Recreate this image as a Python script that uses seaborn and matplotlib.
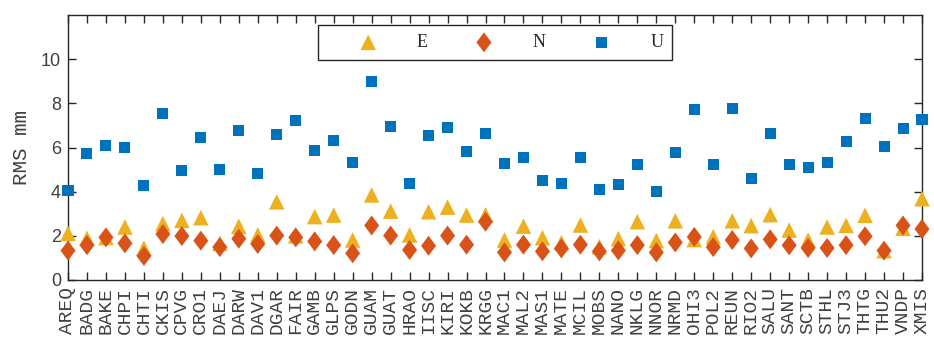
import matplotlib
matplotlib.use("Agg")
import matplotlib.pyplot as plt
import seaborn as sns
import pandas as pd
from matplotlib.path import Path

stations = ["AREQ", "BADG", "BAKE", "CHPI", "CHTI", "CKIS", "CPVG", "CRO1", "DAEJ",
            "DARW", "DAV1", "DGAR", "FAIR", "GAMB", "GLPS", "GODN", "GUAM", "GUAT",
            "HRAO", "IISC", "KIRI", "KOKB", "KRGG", "MAC1", "MAL2", "MAS1", "MATE",
            "MCIL", "MOBS", "NANO", "NKLG", "NNOR", "NRMD", "OHI3", "POL2", "REUN",
            "RIO2", "SALU", "SANT", "SCTB", "STHL", "STJ3", "THTG", "THU2", "VNDP",
            "XMIS"]

rms_e = [2.11, 1.89, 1.92, 2.40, 1.44, 2.55, 2.70, 2.82, 1.66, 2.43, 2.04, 3.54,
         2.00, 2.87, 2.94, 1.81, 3.85, 3.12, 2.04, 3.09, 3.30, 2.94, 2.95, 1.81,
         2.44, 1.91, 1.69, 2.49, 1.51, 1.87, 2.64, 1.79, 2.68, 1.83, 1.96, 2.68,
         2.46, 2.96, 2.26, 1.81, 2.40, 2.47, 2.93, 1.33, 2.34, 3.68]

rms_n = [1.33, 1.58, 1.93, 1.66, 1.09, 2.08, 1.99, 1.78, 1.49, 1.87, 1.63, 2.01,
         1.93, 1.75, 1.58, 1.21, 2.47, 2.01, 1.36, 1.55, 2.01, 1.60, 2.64, 1.25,
         1.60, 1.30, 1.43, 1.60, 1.30, 1.34, 1.58, 1.25, 1.70, 1.95, 1.49, 1.81,
         1.43, 1.84, 1.57, 1.45, 1.45, 1.58, 1.98, 1.33, 2.47, 2.31]

rms_u = [4.06, 5.73, 6.09, 6.00, 4.28, 7.54, 4.96, 6.46, 5.01, 6.77, 4.83, 6.59,
         7.23, 5.87, 6.32, 5.33, 8.99, 6.95, 4.37, 6.55, 6.91, 5.82, 6.64, 5.28,
         5.55, 4.51, 4.37, 5.55, 4.12, 4.33, 5.23, 4.01, 5.78, 7.72, 5.23, 7.77,
         4.60, 6.64, 5.23, 5.10, 5.33, 6.28, 7.32, 6.05, 6.86, 7.27]

y_ticks = [0, 2, 4, 6, 8, 10]

sns.set_theme(style="white")
plt.rcParams["font.family"] = ["Liberation Sans", "DejaVu Sans"]

df = pd.DataFrame({"station": stations, "E": rms_e, "N": rms_n, "U": rms_u})

# tall diamond marker
diamond = Path([(0, 1), (0.75, 0), (0, -1), (-0.75, 0), (0, 1)],
               [Path.MOVETO, Path.LINETO, Path.LINETO, Path.LINETO, Path.CLOSEPOLY])

fig = plt.figure(figsize=(9.34, 3.41), dpi=100)
ax = fig.add_axes([68 / 934, 61 / 341, 854 / 934, 265 / 341])

series = [
    ("E", "#EDB120", "^", 125),
    ("N", "#D95319", diamond, 207),
    ("U", "#0072BD", "s", 63),
]
for name, color, marker, size in series:
    sns.scatterplot(data=df, x="station", y=name, ax=ax, color=color,
                    marker=marker, s=size, linewidth=0, edgecolor="none",
                    label=name, clip_on=False, zorder=3)

ax.set_xlim(0, len(stations) - 1)
ax.set_ylim(0, 12)
ax.set_xticks(range(len(stations)))
ax.set_xticklabels(stations, rotation=90, family=["Liberation Mono"], fontsize=14,
                   color="#404040")
ax.set_yticks(y_ticks)
ax.set_yticklabels([str(t) for t in y_ticks], fontsize=13, color="#404040")
ax.set_xlabel("")
ax.set_ylabel("RMS mm", family=["Liberation Mono"], fontsize=15, color="#404040")
ax.yaxis.set_label_coords(-0.043, 0.5)

ax.tick_params(axis="both", which="major", direction="in", length=6, width=1,
               color="#262626", top=True, right=True, bottom=True, left=True)
ax.tick_params(axis="x", pad=5)
ax.tick_params(axis="y", pad=5)
for sp in ax.spines.values():
    sp.set_visible(True)
    sp.set_color("#262626")
    sp.set_linewidth(1.0)

leg = ax.legend(loc="upper center", bbox_to_anchor=(0.5, 0.962), ncol=3,
                frameon=True, fancybox=False, borderaxespad=0, borderpad=0.5,
                handlelength=4.6, handletextpad=0.4, columnspacing=0.8,
                prop={"family": ["Liberation Serif"], "size": 13})
leg.get_frame().set_edgecolor("#262626")
leg.get_frame().set_linewidth(1.0)
leg.get_frame().set_alpha(1)

fig.savefig("out.png", dpi=100)
